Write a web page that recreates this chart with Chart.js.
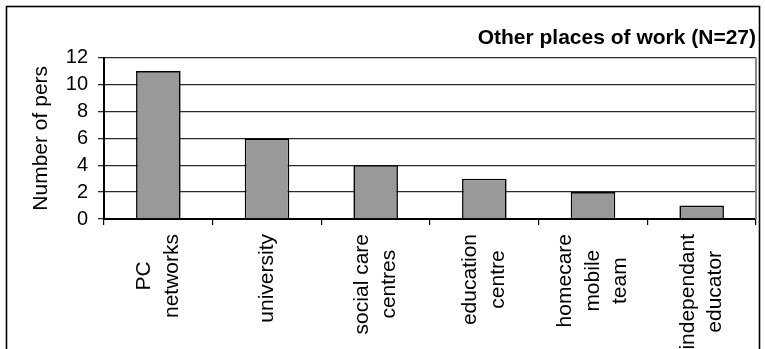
<!DOCTYPE html>
<html>
<head>
<meta charset="utf-8">
<script src="https://cdn.jsdelivr.net/npm/chart.js@4/dist/chart.umd.min.js"></script>
<style>
  html, body { margin: 0; padding: 0; background: #fff; overflow: hidden; }
  #wrap { width: 765px; height: 349px; position: relative; }
</style>
</head>
<body>
<div id="wrap"><canvas id="c" width="765" height="349"></canvas></div>
<script>
// Workplace categories (multi-line labels) and head counts
const categories = [
  ['PC', 'networks'],
  ['university'],
  ['social care', 'centres'],
  ['education', 'centre'],
  ['homecare', 'mobile', 'team'],
  ['independant', 'educator']
];
const counts = [11, 6, 4, 3, 2, 1];
const yTicks = [0, 2, 4, 6, 8, 10, 12];
const chartTitle = 'Other places of work (N=27)';
const yAxisTitle = 'Number of pers';

const FONT = '"Liberation Sans", Arial, Helvetica, sans-serif';
Chart.defaults.font.family = FONT;
Chart.defaults.color = '#000';

// Outer frame of the figure and right edge of the plot area
const framePlugin = {
  id: 'frame',
  beforeDraw(chart) {
    const ctx = chart.ctx;
    ctx.save();
    ctx.fillStyle = '#fff';
    ctx.fillRect(0, 0, chart.width, chart.height);
    ctx.strokeStyle = '#000';
    ctx.lineWidth = 1.6;
    ctx.strokeRect(6.5, 6.5, chart.width - 12, chart.height + 20);
    ctx.restore();
  },
  beforeDatasetsDraw(chart) {
    const { ctx, chartArea } = chart;
    ctx.save();
    ctx.strokeStyle = '#888';
    ctx.lineWidth = 2;
    ctx.beginPath();
    ctx.moveTo(chartArea.right, chartArea.top);
    ctx.lineTo(chartArea.right, chartArea.bottom);
    ctx.stroke();
    ctx.restore();
  }
};

// Category labels: rotated, lines centred on each other, placed at each category's pixel
const xLabelPlugin = {
  id: 'xLabels',
  afterDraw(chart) {
    const sx = chart.scales.x;
    const ctx = chart.ctx;
    const lineStep = 27.5;
    ctx.save();
    ctx.font = '21px ' + FONT;
    ctx.fillStyle = '#000';
    ctx.textAlign = 'center';
    ctx.textBaseline = 'middle';
    categories.forEach((lines, i) => {
      const cx = sx.getPixelForValue(i);
      const w = Math.max(...lines.map(l => ctx.measureText(l).width));
      const cy = sx.top + 15 + w / 2;
      lines.forEach((line, j) => {
        const dx = (j - (lines.length - 1) / 2) * lineStep;
        ctx.save();
        ctx.translate(cx + dx, cy);
        ctx.rotate(-Math.PI / 2);
        ctx.fillText(line, 0, 0);
        ctx.restore();
      });
    });
    ctx.restore();
  }
};

new Chart(document.getElementById('c'), {
  type: 'bar',
  data: {
    labels: categories,
    datasets: [{
      data: counts,
      backgroundColor: '#999999',
      borderColor: '#000',
      borderWidth: 1.6,
      barPercentage: 0.41,
      categoryPercentage: 1
    }]
  },
  options: {
    responsive: false,
    animation: false,
    devicePixelRatio: 1,
    layout: { padding: { left: 0, right: 9, top: 6, bottom: 0 } },
    plugins: {
      legend: { display: false },
      tooltip: { enabled: false },
      title: {
        display: true,
        text: chartTitle,
        align: 'end',
        color: '#000',
        font: { family: FONT, size: 21, weight: 'bold' },
        padding: { top: 20, bottom: 6.4 }
      }
    },
    scales: {
      x: {
        type: 'category',
        offset: true,
        afterFit(s) { s.height = 130; },
        ticks: { display: false },
        grid: {
          offset: true,
          drawOnChartArea: false,
          drawTicks: true,
          tickLength: 6,
          color: '#000',
          lineWidth: 1.2
        },
        border: { display: true, color: '#000', width: 2 }
      },
      y: {
        type: 'linear',
        min: yTicks[0],
        max: yTicks[yTicks.length - 1],
        afterFit(s) { s.width = 104; },
        afterBuildTicks(s) { s.ticks = yTicks.map(v => ({ value: v })); },
        ticks: {
          autoSkip: false,
          stepSize: 2,
          padding: 10,
          color: '#000',
          font: { family: FONT, size: 20 }
        },
        grid: {
          color: '#2a2a2a',
          lineWidth: 1.3,
          drawTicks: true,
          tickLength: 6
        },
        border: { display: true, color: '#000', width: 2 },
        title: {
          display: true,
          text: yAxisTitle,
          color: '#000',
          font: { family: FONT, size: 21 },
          padding: { top: 28.4, bottom: 0 }
        }
      }
    }
  },
  plugins: [framePlugin, xLabelPlugin]
});
</script>
</body>
</html>
